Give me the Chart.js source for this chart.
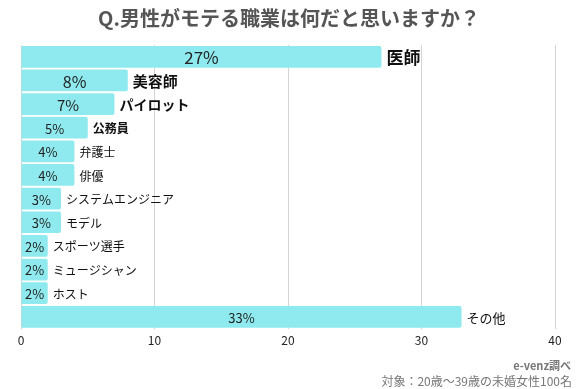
<!DOCTYPE html>
<html>
<head>
<meta charset="utf-8">
<script src="https://cdn.jsdelivr.net/npm/chart.js@4"></script>
<style>
  html, body { margin: 0; padding: 0; background: #fff; }
  #wrap { width: 578px; height: 389px; position: relative; }
</style>
</head>
<body>
<div id="wrap"><canvas id="chart"></canvas></div>
<script>
const titleText = 'Q.男性がモテる職業は何だと思いますか？'
const sourceText = 'e-venz調べ'
const noteText = '対象：20歳〜39歳の未婚女性100名'

const jobs = ['医師', '美容師', 'パイロット', '公務員', '弁護士', '俳優', 'システムエンジニア', 'モデル', 'スポーツ選手', 'ミュージシャン', 'ホスト', 'その他']
const percents = [27, 8, 7, 5, 4, 4, 3, 3, 2, 2, 2, 33]
const xTicks = [0, 10, 20, 30, 40]

// font sizes for labels (style only)
const nameSizes = [17, 15, 14, 12, 12, 12, 12, 12, 12, 12, 12, 13]
const nameBold = [true, true, true, true, false, false, false, false, false, false, false, false]
const valueSizes = [17, 16, 15, 13, 13, 13, 13, 13, 13, 13, 13, 13]

const FONT = '"Noto Sans CJK JP", "Noto Sans", sans-serif'

const barLabels = {
  id: 'barLabels',
  afterDatasetsDraw(chart) {
    const c = chart.ctx
    const meta = chart.getDatasetMeta(0)
    c.save()
    c.textBaseline = 'middle'
    meta.data.forEach((bar, i) => {
      const left = bar.base
      const right = bar.x
      c.fillStyle = '#222'
      c.textAlign = 'center'
      c.font = valueSizes[i] + 'px ' + FONT
      c.fillText(percents[i] + '%', (left + right) / 2, bar.y + 1)
      c.fillStyle = '#111'
      c.textAlign = 'left'
      c.font = (nameBold[i] ? 'bold ' : '') + nameSizes[i] + 'px ' + FONT
      c.fillText(jobs[i], right + 5, bar.y + 1)
    })
    c.restore()
  }
}

const headFoot = {
  id: 'headFoot',
  afterDraw(chart) {
    const c = chart.ctx
    c.save()
    c.fillStyle = '#555'
    c.textAlign = 'center'
    c.textBaseline = 'middle'
    c.font = 'bold 20px ' + FONT
    c.fillText(titleText, 289, 18)
    c.textAlign = 'right'
    c.fillStyle = '#777'
    c.font = 'bold 11px ' + FONT
    c.fillText(sourceText, 571, 366)
    c.font = '12px ' + FONT
    c.fillText(noteText, 572, 381)
    c.restore()
  }
}

const ctx = document.getElementById('chart')
new Chart(ctx, {
  type: 'bar',
  data: {
    labels: jobs,
    datasets: [{
      data: percents,
      backgroundColor: '#8eeaee',
      borderRadius: 2,
      borderSkipped: 'start',
      barPercentage: 0.92,
      categoryPercentage: 1
    }]
  },
  options: {
    indexAxis: 'y',
    responsive: true,
    maintainAspectRatio: false,
    animation: false,
    layout: { padding: { left: 21, right: 23, top: 45, bottom: 36 } },
    plugins: {
      legend: { display: false },
      tooltip: { enabled: false },
      title: { display: false }
    },
    scales: {
      x: {
        min: 0,
        max: 40,
        afterBuildTicks: axis => { axis.ticks = xTicks.map(v => ({ value: v })) },
        grid: { color: '#d4d4d4', drawTicks: false, lineWidth: 1 },
        border: { display: false },
        ticks: { color: '#222', font: { family: FONT, size: 12 }, padding: 5 }
      },
      y: { display: false }
    }
  },
  plugins: [barLabels, headFoot]
});
</script>
</body>
</html>
